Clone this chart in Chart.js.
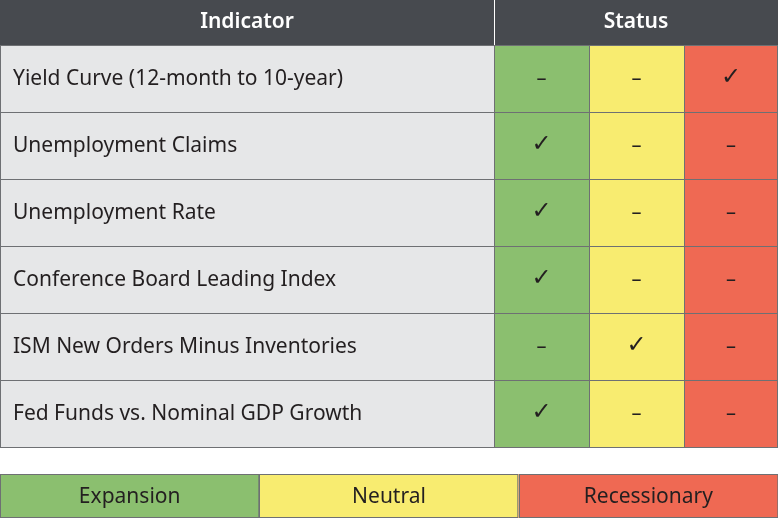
<!DOCTYPE html>
<html><head><meta charset="utf-8">
<script src="https://cdn.jsdelivr.net/npm/chart.js@4"></script>
<style>html,body{margin:0;padding:0;background:#fff}#w{width:778px;height:518px}</style>
</head><body><div id="w"><canvas id="c"></canvas></div>
<script>
const headers = ["Indicator", "Status"];
const indicators = ["Yield Curve (12-month to 10-year)","Unemployment Claims","Unemployment Rate","Conference Board Leading Index","ISM New Orders Minus Inventories","Fed Funds vs. Nominal GDP Growth"];
const statusIdx = [2,0,0,0,1,0]; // 0 expansion, 1 neutral, 2 recessionary
const legendLabels = ["Expansion","Neutral","Recessionary"];
const colWidths = [494,95,95,94];
const colColors = ["#e6e7e8","#8bbf6f","#f8ec70","#ef6953"];
const FONT = '"Noto Sans", sans-serif';

const datasets = colWidths.map((w,i)=>({data:indicators.map(()=>w),backgroundColor:colColors[i],borderWidth:0,barPercentage:1,categoryPercentage:1}));

const tablePlugin = {id:'tbl',afterDatasetsDraw(chart){
  const ctx=chart.ctx, xs=chart.scales.x, ys=chart.scales.y, ca=chart.chartArea;
  const cum=[0]; colWidths.forEach(w=>cum.push(cum[cum.length-1]+w));
  const X=v=>xs.getPixelForValue(v);
  const rowH=(ca.bottom-ca.top)/indicators.length;
  ctx.save();
  // header
  ctx.fillStyle="#474a4f"; ctx.fillRect(X(0),0,X(cum[4])-X(0),ca.top);
  ctx.fillStyle="#fff"; ctx.font='600 21px '+FONT; ctx.textAlign='center'; ctx.textBaseline='middle';
  ctx.fillText(headers[0],(X(0)+X(cum[1]))/2,ca.top/2);
  ctx.fillText(headers[1],(X(cum[1])+X(cum[4]))/2,ca.top/2);
  ctx.strokeStyle="#fff"; ctx.lineWidth=1;
  ctx.beginPath(); ctx.moveTo(X(cum[1])+0.5,0); ctx.lineTo(X(cum[1])+0.5,ca.top); ctx.stroke();
  // grid
  ctx.strokeStyle="#6e7073"; ctx.lineWidth=1;
  for(let r=0;r<=indicators.length;r++){const y=Math.round(ys.getPixelForValue(r)-rowH/2)+0.5;ctx.beginPath();ctx.moveTo(X(0),y);ctx.lineTo(X(cum[4]),y);ctx.stroke();}
  [0,1,2,3,4].forEach(i=>{const x=Math.min(Math.round(X(cum[i]))+0.5,chart.width-0.5);ctx.beginPath();ctx.moveTo(x,ca.top);ctx.lineTo(x,ca.bottom);ctx.stroke();});
  // text
  indicators.forEach((t,r)=>{const y=ys.getPixelForValue(r);
    ctx.fillStyle="#231f20"; ctx.font='21px '+FONT; ctx.textAlign='left'; ctx.fillText(t,X(0)+13,y+1);
    for(let c=0;c<3;c++){const cx=(X(cum[c+1])+X(cum[c+2]))/2; ctx.textAlign='center';
      if(statusIdx[r]===c){ctx.font='24px "DejaVu Sans"';ctx.fillText("✓",cx,y-1);}
      else{ctx.font='20px '+FONT;ctx.fillText("–",cx,y+1);}}
  });
  // legend
  const ly=474, lh=chart.height-ly, lw=(X(cum[4])-X(0))/3;
  legendLabels.forEach((l,i)=>{const x0=X(0)+i*lw;
    ctx.fillStyle=colColors[i+1]; ctx.fillRect(x0,ly,lw,lh);
    ctx.strokeStyle="#6e7073"; ctx.strokeRect(Math.round(x0)+0.5,ly+0.5,lw-1,lh-1);
    ctx.fillStyle="#231f20"; ctx.font='21px '+FONT; ctx.textAlign='center'; ctx.fillText(l,x0+lw/2,ly+lh/2+1);
  });
  ctx.restore();
}};

new Chart(document.getElementById('c'),{type:'bar',
  data:{labels:indicators,datasets},
  options:{indexAxis:'y',responsive:true,maintainAspectRatio:false,animation:false,
    layout:{padding:{top:45,bottom:71,left:0,right:0}},
    plugins:{legend:{display:false},tooltip:{enabled:false}},
    scales:{x:{type:'linear',stacked:true,min:0,max:778,display:false},y:{stacked:true,display:false}}},
  plugins:[tablePlugin]});
</script></body></html>
